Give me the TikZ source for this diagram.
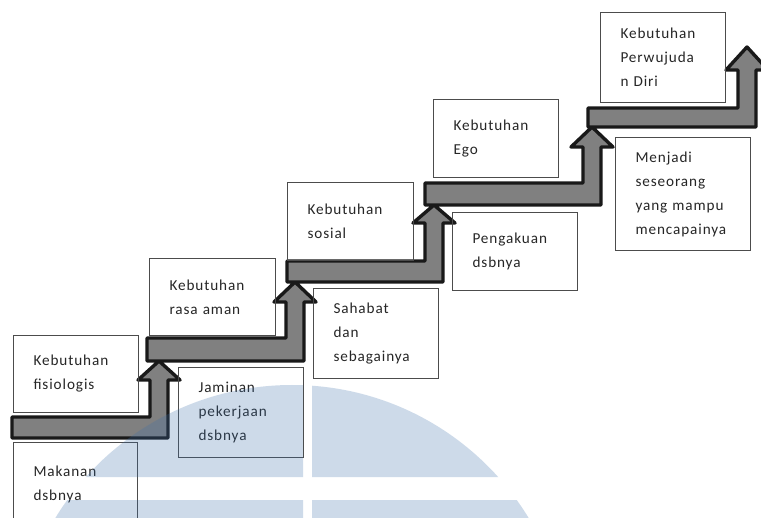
\documentclass[tikz,border=0pt]{standalone}
\usepackage{fontspec}
\setmainfont{Carlito}[LetterSpace=6]
\definecolor{wmblue}{RGB}{59,111,171}

\begin{document}
\begin{tikzpicture}[
    x=0.5pt, y=-0.5pt,
    font=\fontsize{7.6}{12}\selectfont,
    need/.style 2 args={rectangle, draw=black!70, line width=0.5pt, anchor=north west, align=left, text=black!85, inner xsep=10pt, inner ysep=0pt, minimum width=#1*0.5pt, minimum height=#2*0.5pt, text width=#1*0.5pt-20pt},
    stair/.style={fill=black!50, draw=black!90, line width=1.7pt, line join=round}
]
\useasboundingbox (0,0) rectangle (761,518);
\clip (0,0) rectangle (761,518);
\fill[white] (0,0) rectangle (761,518);

% Stairs
\draw[stair] (12,438) -- (168,438) -- (168,380) -- (180,380) -- (159,361)
  -- (304,361) -- (304,302) -- (316,302) -- (295,282)
  -- (443,282) -- (443,223) -- (455,223) -- (434,205)
  -- (601,205) -- (601,147) -- (613,147) -- (592,127)
  -- (756,127) -- (756,70) -- (768,70) -- (747,47)
  -- (726,70) -- (738,70) -- (738,108) -- (588,108) -- (588,127) -- (592,127)
  -- (571,147) -- (583,147) -- (583,183) -- (425,183) -- (425,205) -- (434,205)
  -- (413,223) -- (425,223) -- (425,261) -- (287,261) -- (287,282) -- (295,282)
  -- (274,302) -- (286,302) -- (286,338) -- (147,338) -- (147,361) -- (159,361)
  -- (138,380) -- (150,380) -- (150,417) -- (12,417) -- cycle;

% Needs (above the stairs)
\node[need={125}{77}] (fis) at (13,335) {Kebutuhan\\fisiologis};
\node[need={126}{77}] (aman) at (149,258) {Kebutuhan\\rasa aman};
\node[need={126}{78}] (sosial) at (287,182) {Kebutuhan\\sosial};
\node[need={125}{78}] (ego) at (433,99) {Kebutuhan\\Ego};
\node[need={125}{90}] (diri) at (600,12) {Kebutuhan\\Perwujuda\\n Diri};

% Examples (below the stairs)
\node[need={124}{83}] (makan) at (13,442) {Makanan\\dsbnya};
\node[need={125}{90}] (jamin) at (178,367) {Jaminan\\pekerjaan\\dsbnya};
\node[need={125}{90}] (sahabat) at (313,288) {Sahabat\\dan\\sebagainya};
\node[need={125}{78}] (akui) at (452,212) {Pengakuan\\dsbnya};
\node[need={135}{113}] (menjadi) at (615,137) {Menjadi\\seseorang\\yang mampu\\mencapainya};

% Watermark
\begin{scope}
\clip (292,662) circle[radius=277];
\fill[wmblue, opacity=0.25] (0,0) rectangle (303,477) (312,0) rectangle (761,477)
  (0,500) rectangle (303,518) (312,500) rectangle (761,518);
\end{scope}

\end{tikzpicture}
\end{document}
